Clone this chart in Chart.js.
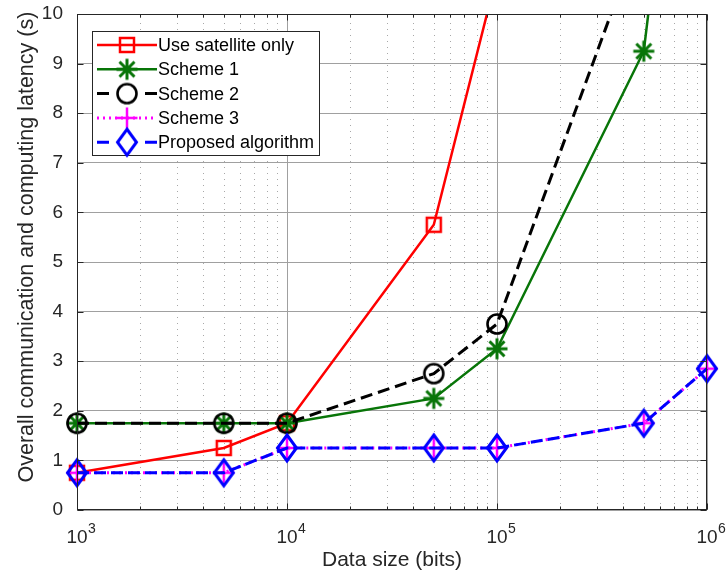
<!DOCTYPE html>
<html><head><meta charset="utf-8">
<script src="https://cdn.jsdelivr.net/npm/chart.js@4/dist/chart.umd.min.js"></script>
<style>html,body{margin:0;padding:0;background:#fff;overflow:hidden}</style>
</head><body>
<canvas id="c" width="727" height="573" style="display:block;width:727px;height:573px"></canvas>
<script>
// ---- data ----
const dataSizes      = [1e3, 5e3, 1e4, 5e4, 1e5, 5e5, 1e6];
const satelliteOnly  = [0.75, 1.25, 1.75, 5.75, 10.8, null, null];
const scheme1        = [1.75, 1.75, 1.75, 2.25, 3.25, 9.25, 19.8];
const scheme2        = [1.75, 1.75, 1.75, 2.75, 3.75, 11.8, null];
const scheme3        = [0.75, 0.75, 1.25, 1.25, 1.25, 1.75, 2.85];
const proposed       = [0.75, 0.75, 1.25, 1.25, 1.25, 1.75, 2.85];
const seriesNames    = ['Use satellite only', 'Scheme 1', 'Scheme 2', 'Scheme 3', 'Proposed algorithm'];
const xTickValues    = [1e3, 1e4, 1e5, 1e6];
const xTickBase      = '10';
const xTickExps      = ['3', '4', '5', '6'];
const yTickValues    = [0,1,2,3,4,5,6,7,8,9,10];
const xTitle = 'Data size (bits)';
const yTitle = 'Overall communication and computing latency (s)';

const FONT = "'Liberation Sans', Arial, Helvetica, sans-serif";
const AXIS = '#262626';

// ---- marker images (styles) ----
function mk(w, h, draw) {
  const c = document.createElement('canvas'); c.width = w; c.height = h;
  const g = c.getContext('2d'); draw(g, w / 2, h / 2); return c;
}
const mSquare = mk(20, 20, (g, cx, cy) => { g.strokeStyle = '#ff0000'; g.lineWidth = 2.5; g.strokeRect(cx - 7, cy - 7, 14, 14); });
const mStar = mk(26, 26, (g, cx, cy) => {
  g.strokeStyle = '#087508'; g.lineWidth = 3; g.lineCap = 'butt'; const r = 10.5, d = 7.5;
  g.beginPath(); g.moveTo(cx - r, cy); g.lineTo(cx + r, cy); g.moveTo(cx, cy - r); g.lineTo(cx, cy + r);
  g.moveTo(cx - d, cy - d); g.lineTo(cx + d, cy + d); g.moveTo(cx - d, cy + d); g.lineTo(cx + d, cy - d); g.stroke();
});
const mCircle = mk(26, 26, (g, cx, cy) => { g.strokeStyle = '#000'; g.lineWidth = 2.6; g.beginPath(); g.arc(cx, cy, 9.5, 0, Math.PI * 2); g.stroke(); });
const mPlus = mk(26, 26, (g, cx, cy) => {
  g.strokeStyle = '#ff00ff'; g.lineWidth = 2.5; const r = 10.5;
  g.beginPath(); g.moveTo(cx - r, cy); g.lineTo(cx + r, cy); g.moveTo(cx, cy - r); g.lineTo(cx, cy + r); g.stroke();
});
const mDiamond = mk(26, 32, (g, cx, cy) => {
  g.strokeStyle = '#0000ff'; g.lineWidth = 3; g.lineJoin = 'miter';
  g.beginPath(); g.moveTo(cx, cy - 13); g.lineTo(cx + 9.5, cy); g.lineTo(cx, cy + 13); g.lineTo(cx - 9.5, cy); g.closePath(); g.stroke();
});

const pts = arr => dataSizes.map((x, i) => ({ x, y: arr[i] }));
function ds(label, arr, color, width, dash, marker, order) {
  return { label, data: pts(arr), borderColor: color, borderWidth: width, borderDash: dash,
    pointStyle: marker, pointRadius: 10, tension: 0, fill: false, order, spanGaps: false,
    backgroundColor: 'transparent', clip: { left: 30, top: 0, right: 30, bottom: 30 } };
}
const datasets = [
  ds(seriesNames[0], satelliteOnly, '#ff0000', 2.5, [], mSquare, 5),
  ds(seriesNames[1], scheme1, '#087508', 2.5, [], mStar, 4),
  ds(seriesNames[2], scheme2, '#000000', 3, [12, 6], mCircle, 3),
  ds(seriesNames[3], scheme3, '#ff00ff', 3, [2, 4], mPlus, 2),
  ds(seriesNames[4], proposed, '#0000ff', 3, [12, 5], mDiamond, 1),
];
const legendDash = ['solid', 'solid', 'split', 'dot', 'split'];
const legendMarks = [mSquare, mStar, mCircle, mPlus, mDiamond];

const minorVals = [];
for (let d = 1e3; d < 1e6; d *= 10) for (let k = 2; k <= 9; k++) minorVals.push(k * d);

const matlabAxes = {
  id: 'matlabAxes',
  beforeDatasetsDraw(chart) {
    const { ctx, chartArea: a, scales: { x } } = chart;
    ctx.save();
    ctx.strokeStyle = '#a8a8a8'; ctx.lineWidth = 1; ctx.setLineDash([1, 5]);
    minorVals.forEach(v => {
      const px = Math.round(x.getPixelForValue(v)) + 0.5;
      ctx.beginPath(); ctx.moveTo(px, a.bottom); ctx.lineTo(px, a.top); ctx.stroke();
    });
    ctx.restore();
  },
  afterDatasetsDraw(chart) {
    const { ctx, chartArea: a, scales: { x, y } } = chart;
    ctx.save();
    ctx.strokeStyle = AXIS; ctx.lineWidth = 1; ctx.setLineDash([]);
    const L = Math.round(a.left) + 0.5, R = Math.round(a.right) - 0.5, T = Math.round(a.top) + 0.5, B = Math.round(a.bottom) - 0.5;
    ctx.strokeRect(L, T, R - L, B - T);
    ctx.beginPath();
    yTickValues.forEach(v => {
      const py = Math.round(y.getPixelForValue(v)) + 0.5;
      ctx.moveTo(L, py); ctx.lineTo(L + 6, py); ctx.moveTo(R, py); ctx.lineTo(R - 6, py);
    });
    xTickValues.forEach(v => {
      const px = Math.round(x.getPixelForValue(v)) + 0.5;
      ctx.moveTo(px, B); ctx.lineTo(px, B - 6); ctx.moveTo(px, T); ctx.lineTo(px, T + 6);
    });
    minorVals.forEach(v => {
      const px = Math.round(x.getPixelForValue(v)) + 0.5;
      ctx.moveTo(px, B); ctx.lineTo(px, B - 3); ctx.moveTo(px, T); ctx.lineTo(px, T + 3);
    });
    ctx.stroke();

    // x tick labels with superscript exponents
    ctx.fillStyle = AXIS; ctx.textBaseline = 'alphabetic';
    xTickValues.forEach((v, i) => {
      const px = x.getPixelForValue(v);
      ctx.font = '19px ' + FONT; ctx.textAlign = 'center';
      const w = ctx.measureText(xTickBase).width;
      ctx.fillText(xTickBase, px, a.bottom + 33);
      ctx.font = '14px ' + FONT; ctx.textAlign = 'left';
      ctx.fillText(xTickExps[i], px + w / 2 + 0.5, a.bottom + 23);
    });

    // legend
    const bx = 92.5, by = 31.5, bw = 227, bh = 124;
    ctx.fillStyle = '#fff'; ctx.fillRect(bx, by, bw, bh);
    ctx.strokeStyle = AXIS; ctx.lineWidth = 1; ctx.strokeRect(bx, by, bw, bh);
    const x0 = 97, x1 = 157, xm = 127;
    chart.data.datasets.forEach((d, i) => {
      const yy = 45 + i * 24.3;
      ctx.strokeStyle = d.borderColor; ctx.lineWidth = d.borderWidth;
      ctx.beginPath();
      if (legendDash[i] === 'split') {
        ctx.setLineDash([]);
        ctx.moveTo(x0, yy); ctx.lineTo(x0 + 12, yy); ctx.moveTo(x1 - 12, yy); ctx.lineTo(x1, yy);
      } else {
        ctx.setLineDash(legendDash[i] === 'dot' ? [2, 4] : []);
        ctx.moveTo(x0, yy); ctx.lineTo(x1, yy);
      }
      ctx.stroke();
      ctx.setLineDash([]);
      const m = legendMarks[i];
      ctx.drawImage(m, xm - m.width / 2, yy - m.height / 2);
      ctx.fillStyle = '#000'; ctx.font = '18px ' + FONT; ctx.textBaseline = 'middle'; ctx.textAlign = 'left';
      ctx.fillText(d.label, 158, yy + 1);
    });
    ctx.restore();
  }
};

new Chart(document.getElementById('c'), {
  type: 'line',
  data: { datasets },
  options: {
    responsive: false, animation: false, devicePixelRatio: 1,
    layout: { padding: { left: 0, right: 20, top: 14, bottom: 0 } },
    plugins: { legend: { display: false }, tooltip: { enabled: false } },
    scales: {
      x: {
        type: 'logarithmic', min: 1e3, max: 1e6,
        afterBuildTicks: s => { s.ticks = xTickValues.concat(minorVals).sort((a, b) => a - b).map(v => ({ value: v })); },
        afterFit: s => { s.height = 63; s.paddingLeft = 0; s.paddingRight = 0; s.paddingTop = 0; s.paddingBottom = 0; },
        ticks: { display: false, autoSkip: false, maxRotation: 0, minRotation: 0 },
        grid: { drawTicks: false, lineWidth: 1,
          color: c => (c.tick && xTickValues.indexOf(c.tick.value) >= 0) ? '#a0a0a0' : 'rgba(0,0,0,0)' },
        border: { display: false },
        title: { display: true, text: xTitle, color: AXIS, font: { family: FONT, size: 21 }, padding: { top: 2, bottom: 0 } }
      },
      y: {
        min: 0, max: 10,
        afterBuildTicks: s => { s.ticks = yTickValues.map(v => ({ value: v })); },
        afterFit: s => { s.width = 77; s.paddingTop = 0; s.paddingBottom = 0; s.paddingLeft = 0; s.paddingRight = 0; },
        ticks: { padding: 14, color: AXIS, font: { family: FONT, size: 19 } },
        grid: { drawTicks: false, lineWidth: 1, color: '#a0a0a0' },
        border: { display: false },
        title: { display: true, text: '     ' + yTitle, color: AXIS, font: { family: FONT, size: 21.5 }, padding: { top: 14, bottom: 0 } }
      }
    }
  },
  plugins: [matlabAxes]
});
</script>
</body></html>
